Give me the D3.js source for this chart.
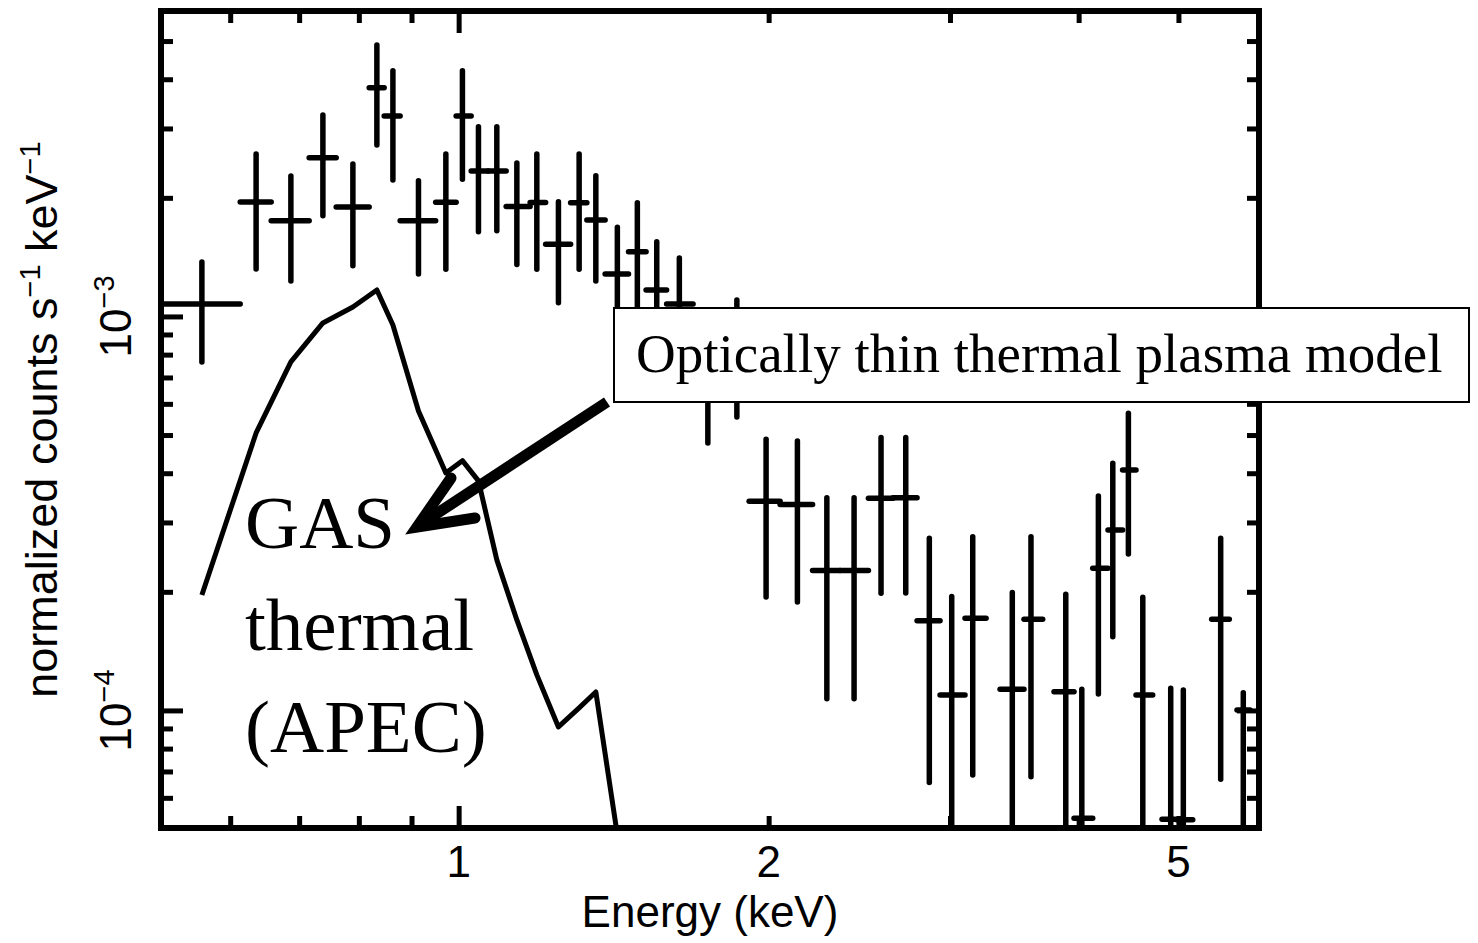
<!DOCTYPE html>
<html>
<head>
<meta charset="utf-8">
<script src="https://cdn.jsdelivr.net/npm/d3@7"></script>
<style>
  html, body { margin: 0; padding: 0; background: #fff; }
  svg { display: block; }
</style>
</head>
<body>
<svg id="chart" width="1478" height="943"></svg>
<script>
// ---- Spectrum: energy bins (keV) ----
const energy = [0.5632,0.6358,0.6872,0.7382,0.7894,0.8329,0.8633,0.9141,0.9718,1.0085,1.0453,1.0891,1.1390,1.1910,1.2500,1.3092,1.3590,1.4260,1.4912,1.5573,1.6380,1.7458,1.8628,1.9886,2.1329,2.2780,2.4210,2.5714,2.7175,2.8646,3.0117,3.1566,3.4486,3.5957,3.8866,4.0285,4.1806,4.3175,4.4707,4.6171,4.9145,5.0550,5.4954,5.7803];
const energyLo = [0.5166,0.6136,0.6576,0.7159,0.7605,0.8187,0.8466,0.8774,0.9499,0.9944,1.0284,1.0682,1.1121,1.1733,1.2147,1.2845,1.3320,1.3875,1.4620,1.5206,1.5920,1.6891,1.8030,1.9146,2.0519,2.2065,2.3463,2.4999,2.6415,2.7871,2.9341,3.1027,3.3555,3.5399,3.7858,3.9590,4.1280,4.2716,4.4127,4.5477,4.8199,4.9792,5.3860,5.6996];
const energyHi = [0.6136,0.6576,0.7159,0.7605,0.8187,0.8466,0.8774,0.9499,0.9944,1.0284,1.0682,1.1121,1.1733,1.2147,1.2845,1.3320,1.3875,1.4620,1.5206,1.5920,1.6891,1.8030,1.9146,2.0519,2.2065,2.3463,2.4999,2.6415,2.7871,2.9341,3.1027,3.2522,3.5399,3.6911,3.9590,4.1280,4.2716,4.4127,4.5477,4.7206,4.9792,5.1625,5.6022,5.8675];

// ---- Spectrum: normalized counts s^-1 keV^-1 with 1-sigma bounds ----
const rate = [1.0758e-3,1.9526e-3,1.7504e-3,2.5296e-3,1.8964e-3,3.8083e-3,3.2278e-3,1.7504e-3,1.9492e-3,3.2278e-3,2.3403e-3,2.3403e-3,1.9019e-3,1.9469e-3,1.5250e-3,1.9446e-3,1.7576e-3,1.2819e-3,1.4604e-3,1.1675e-3,1.0758e-3,0.6981e-3,0.8126e-3,0.3396e-3,0.3333e-3,0.2264e-3,0.2264e-3,0.3454e-3,0.3468e-3,0.1690e-3,0.1095e-3,0.1714e-3,0.1132e-3,0.1704e-3,0.1116e-3,0.05327e-3,0.2296e-3,0.2871e-3,0.4078e-3,0.1095e-3,0.05296e-3,0.05275e-3,0.1704e-3,0.1003e-3];
const rateHi = [1.3751e-3,2.5849e-3,2.2730e-3,3.2467e-3,2.4382e-3,4.8876e-3,4.2060e-3,2.2114e-3,2.5849e-3,4.2060e-3,3.0319e-3,3.0319e-3,2.4525e-3,2.5849e-3,1.9560e-3,2.5849e-3,2.2770e-3,1.6843e-3,1.9446e-3,1.5483e-3,1.4076e-3,0.9350e-3,1.1012e-3,0.4879e-3,0.4831e-3,0.3468e-3,0.3468e-3,0.4931e-3,0.4931e-3,0.2736e-3,0.1945e-3,0.2761e-3,0.1991e-3,0.2761e-3,0.1972e-3,0.1132e-3,0.3503e-3,0.4240e-3,0.5680e-3,0.1938e-3,0.1139e-3,0.1127e-3,0.2736e-3,0.1109e-3];
const rateLo = [0.7665e-3,1.3200e-3,1.2306e-3,1.8024e-3,1.3457e-3,2.7245e-3,2.2205e-3,1.2819e-3,1.3177e-3,2.2296e-3,1.6414e-3,1.6511e-3,1.3551e-3,1.3177e-3,1.0840e-3,1.3177e-3,1.2306e-3,0.8923e-3,0.9913e-3,0.7985e-3,0.7532e-3,0.4774e-3,0.5558e-3,0.1941e-3,0.1885e-3,0.1070e-3,0.1070e-3,0.1984e-3,0.1987e-3,0.06559e-3,2e-5,0.06860e-3,2e-5,0.06791e-3,2e-5,2e-5,0.1101e-3,0.1539e-3,0.2496e-3,2e-5,2e-5,2e-5,0.06690e-3,2e-5];

// ---- APEC thermal plasma model, folded, at the bin centres ----
const modelEnergy = [0.5632,0.6358,0.6872,0.7382,0.7894,0.8329,0.8633,0.9141,0.9718,1.0085,1.0453,1.0891,1.1390,1.1910,1.2500,1.3092,1.3590,1.4260];
const modelRate = [0.1964e-3,0.5062e-3,0.7665e-3,0.9627e-3,1.0571e-3,1.1675e-3,0.9515e-3,0.5757e-3,0.4007e-3,0.4305e-3,0.3824e-3,0.2410e-3,0.1697e-3,0.1231e-3,0.09079e-3,0.1015e-3,0.1114e-3,0.04831e-3];

// ---- Axes ----
const xDomain = [0.514, 5.987];
const yDomain = [5.03e-5, 5.96e-3];
const xMajorTicks = [1];
const xMinorTicks = [0.6, 0.7, 0.8, 0.9, 2, 3, 4, 5];
const xTickLabels = [1, 2, 5];
const yMajorTicks = [1e-4, 1e-3];
const yMinorTicks = [6e-5, 7e-5, 8e-5, 9e-5, 2e-4, 3e-4, 4e-4, 5e-4, 6e-4, 7e-4, 8e-4, 9e-4, 2e-3, 3e-3, 4e-3, 5e-3];
const yTickLabels = [1e-4, 1e-3];
const yTickExponents = ["\u22124", "\u22123"];

// ---- Layout ----
const plot = { left: 161, right: 1259, top: 11, bottom: 828 };
const sansFont = "'Liberation Sans', Arial, Helvetica, sans-serif";
const serifFont = "'Liberation Serif', 'Times New Roman', serif";

const svg = d3.select("#chart");

const x = d3.scaleLog().domain(xDomain).range([plot.left, plot.right]);
const y = d3.scaleLog().domain(yDomain).range([plot.bottom, plot.top]);

svg.append("defs").append("clipPath").attr("id", "plot-clip")
  .append("rect")
  .attr("x", plot.left).attr("y", plot.top)
  .attr("width", plot.right - plot.left).attr("height", plot.bottom - plot.top);

const dataLayer = svg.append("g").attr("clip-path", "url(#plot-clip)");

// Error crosses for the observed spectrum
const pts = energy.map((e, i) => ({ e, lo: energyLo[i], hi: energyHi[i], r: rate[i], rLo: rateLo[i], rHi: rateHi[i] }));
const cross = dataLayer.append("g")
  .attr("stroke", "#000").attr("stroke-width", 5.5).attr("stroke-linecap", "round").attr("fill", "none");
cross.selectAll("line.hbar").data(pts).join("line").attr("class", "hbar")
  .attr("x1", d => x(d.lo)).attr("x2", d => x(d.hi))
  .attr("y1", d => y(d.r)).attr("y2", d => y(d.r));
cross.selectAll("line.vbar").data(pts).join("line").attr("class", "vbar")
  .attr("x1", d => x(d.e)).attr("x2", d => x(d.e))
  .attr("y1", d => y(d.rLo)).attr("y2", d => y(d.rHi));

// Model curve
const modelPts = modelEnergy.map((e, i) => [e, modelRate[i]]);
dataLayer.append("path")
  .datum(modelPts)
  .attr("fill", "none").attr("stroke", "#000").attr("stroke-width", 5)
  .attr("stroke-linejoin", "round")
  .attr("d", d3.line().x(d => x(d[0])).y(d => y(d[1])));

// Ticks on all four sides, pointing inward
const MAJ = 22, MIN = 12;
function tickAxis(axisFn, scale, values, len, transform) {
  const g = svg.append("g").attr("transform", transform)
    .call(axisFn(scale).tickValues(values).tickSizeInner(-len).tickSizeOuter(0).tickFormat(""));
  g.select(".domain").remove();
  g.selectAll(".tick line").attr("stroke", "#000").attr("stroke-width", 5);
  return g;
}
tickAxis(d3.axisBottom, x, xMinorTicks, MIN, `translate(0,${plot.bottom})`);
tickAxis(d3.axisBottom, x, xMajorTicks, MAJ, `translate(0,${plot.bottom})`);
tickAxis(d3.axisTop, x, xMinorTicks, MIN, `translate(0,${plot.top})`);
tickAxis(d3.axisTop, x, xMajorTicks, MAJ, `translate(0,${plot.top})`);
tickAxis(d3.axisLeft, y, yMinorTicks, MIN, `translate(${plot.left},0)`);
tickAxis(d3.axisLeft, y, yMajorTicks, MAJ, `translate(${plot.left},0)`);
tickAxis(d3.axisRight, y, yMinorTicks, MIN, `translate(${plot.right},0)`);
tickAxis(d3.axisRight, y, yMajorTicks, MAJ, `translate(${plot.right},0)`);

// Frame
svg.append("rect")
  .attr("x", plot.left).attr("y", plot.top)
  .attr("width", plot.right - plot.left).attr("height", plot.bottom - plot.top)
  .attr("fill", "none").attr("stroke", "#000").attr("stroke-width", 6);

// X tick labels
svg.append("g").selectAll("text").data(xTickLabels).join("text")
  .attr("x", d => x(d)).attr("y", 877)
  .attr("text-anchor", "middle")
  .attr("font-family", sansFont).attr("font-size", 44).attr("fill", "#000")
  .text(d => d3.format("d")(d));

// Y tick labels (10^n, rotated)
const yl = svg.append("g").selectAll("text").data(yTickLabels).join("text")
  .attr("transform", d => `translate(131,${y(d)}) rotate(-90)`)
  .attr("text-anchor", "middle")
  .attr("font-family", sansFont).attr("font-size", 44).attr("fill", "#000");
yl.append("tspan").text("10");
yl.append("tspan").attr("font-size", 29).attr("dy", -17).text((d, i) => yTickExponents[i]);

// Axis titles
svg.append("text")
  .attr("x", (plot.left + plot.right) / 2).attr("y", 927)
  .attr("text-anchor", "middle")
  .attr("font-family", sansFont).attr("font-size", 44).attr("fill", "#000")
  .text("Energy (keV)");

const yt = svg.append("text")
  .attr("transform", `translate(57,${(plot.top + plot.bottom) / 2}) rotate(-90)`)
  .attr("text-anchor", "middle")
  .attr("font-family", sansFont).attr("font-size", 45).attr("fill", "#000");
yt.append("tspan").text("normalized counts s");
yt.append("tspan").attr("font-size", 29).attr("dy", -17).text("\u22121");
yt.append("tspan").attr("dy", 17).text(" keV");
yt.append("tspan").attr("font-size", 29).attr("dy", -17).text("\u22121");

// ---- Annotations ----
const box = { x: 614, y: 308, w: 855, h: 94 };
svg.append("rect")
  .attr("x", box.x).attr("y", box.y).attr("width", box.w).attr("height", box.h)
  .attr("fill", "#fff").attr("stroke", "#000").attr("stroke-width", 2);
svg.append("text")
  .attr("x", 636).attr("y", 372)
  .attr("font-family", serifFont).attr("font-size", 55).attr("fill", "#000")
  .text("Optically thin thermal plasma model");

// Arrow from the box to the model label
const arrow = svg.append("g").attr("stroke", "#000").attr("fill", "none");
arrow.append("line")
  .attr("x1", 607).attr("y1", 402).attr("x2", 424).attr("y2", 522)
  .attr("stroke-width", 11);
arrow.append("path")
  .attr("d", "M451,478 L417,527 L475,518")
  .attr("stroke-width", 11).attr("stroke-linecap", "round").attr("stroke-linejoin", "miter");

const gasLines = ["GAS", "thermal", "(APEC)"];
svg.append("g").selectAll("text").data(gasLines).join("text")
  .attr("x", 245).attr("y", (d, i) => 548 + i * 102)
  .attr("font-family", serifFont).attr("font-size", 75).attr("fill", "#000")
  .text(d => d);
</script>
</body>
</html>
